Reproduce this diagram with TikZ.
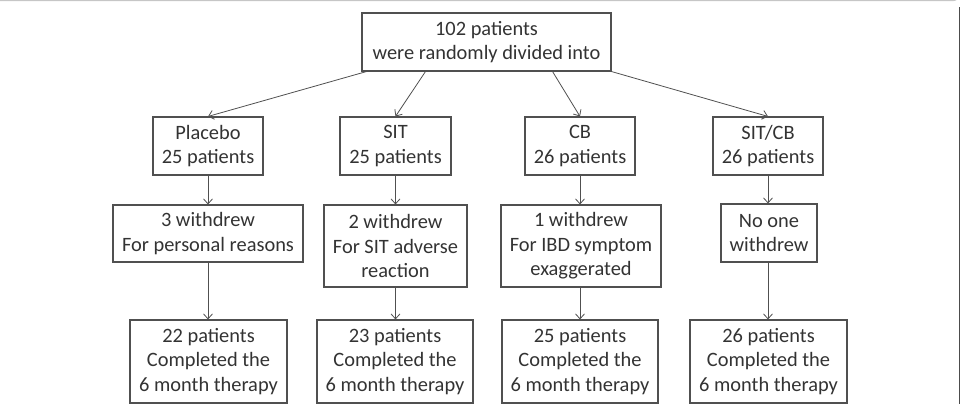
\documentclass[tikz,border=0pt]{standalone}
\usepackage{fontspec}
\setmainfont{Carlito}
\usetikzlibrary{arrows.meta}
\definecolor{txt}{HTML}{333333}
\definecolor{edge}{HTML}{505050}
\begin{document}
\begin{tikzpicture}[x=1pt,y=-1pt,
  box/.style={draw=edge, line width=1.1pt, fill=white, text=txt, align=center,
    inner sep=0pt, font=\fontsize{20.4}{24.5}\selectfont},
  arr/.style={draw=edge, line width=0.8pt, -{Straight Barb[length=5pt,width=9pt]}}]
\useasboundingbox (0,0) rectangle (961,404);
\clip (0,0) rectangle (961,404);
% frame
\draw[gray!45, line width=1pt] (-5,0.6) -- (953,0.6) arc[start angle=90, end angle=0, radius=6.5];
\draw[gray!60!black, line width=1.5pt] (959.5,7.1) -- (959.5,410);
% nodes
\node[box, minimum width=249pt, minimum height=58pt] (top) at (486.5,42) {102 patients\\were randomly divided into};
\node[box, minimum width=110pt, minimum height=58pt] (p1) at (208,146) {Placebo\\25 patients};
\node[box, minimum width=111pt, minimum height=58pt] (s1) at (395.5,146) {SIT\\25 patients};
\node[box, minimum width=110pt, minimum height=58pt] (c1) at (580,146) {CB\\26 patients};
\node[box, minimum width=110pt, minimum height=58pt] (b1) at (768,146) {SIT/CB\\26 patients};
\node[box, minimum width=190pt, minimum height=57pt] (p2) at (208,233.5) {3 withdrew\\For personal reasons};
\node[box, minimum width=143pt, minimum height=82pt] (s2) at (395.5,246) {2 withdrew\\For SIT adverse\\reaction};
\node[box, minimum width=160pt, minimum height=82pt] (c2) at (581,246) {1 withdrew\\For IBD symptom\\exaggerated};
\node[box, minimum width=96pt, minimum height=58pt] (b2) at (769,233) {No one\\withdrew};
\node[box, minimum width=157pt, minimum height=83pt] (p3) at (208.5,361.5) {22 patients\\Completed the\\6 month therapy};
\node[box, minimum width=156pt, minimum height=83pt] (s3) at (395,361.5) {23 patients\\Completed the\\6 month therapy};
\node[box, minimum width=156pt, minimum height=83pt] (c3) at (580,361.5) {25 patients\\Completed the\\6 month therapy};
\node[box, minimum width=157pt, minimum height=83pt] (b3) at (768.5,361.5) {26 patients\\Completed the\\6 month therapy};
% connectors
\draw[arr] ([xshift=5pt]top.south west) -- (p1.north);
\draw[arr] ([xshift=64pt]top.south west) -- (s1.north);
\draw[arr] ([xshift=-59pt]top.south east) -- (c1.north);
\draw[arr] (top.south east) -- (b1.north);
\draw[arr] (p1.south) -- (p1.south |- p2.north);
\draw[arr] (s1.south) -- (s1.south |- s2.north);
\draw[arr] (c1.south) -- (c1.south |- c2.north);
\draw[arr] (b1.south) -- (b1.south |- b2.north);
\draw[arr] (p1.south |- p2.south) -- (p1.south |- p3.north);
\draw[arr] (s1.south |- s2.south) -- (s1.south |- s3.north);
\draw[arr] (c1.south |- c2.south) -- (c1.south |- c3.north);
\draw[arr] (b1.south |- b2.south) -- (b1.south |- b3.north);
\end{tikzpicture}
\end{document}
